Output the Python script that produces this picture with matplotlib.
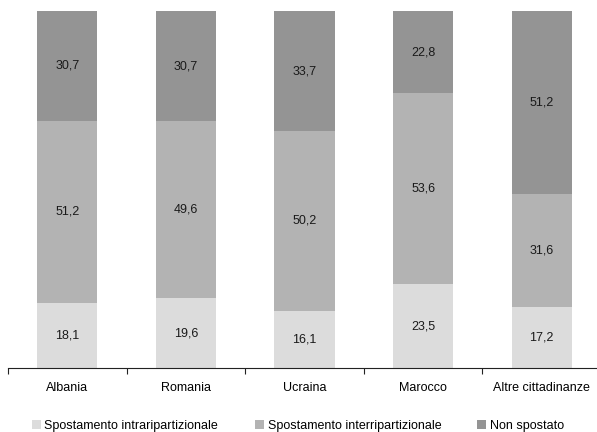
import numpy as np
import matplotlib.pyplot as plt

plt.rcParams['font.family'] = ['Liberation Sans', 'DejaVu Sans']

# dati
paesi = ['Albania', 'Romania', 'Ucraina', 'Marocco', 'Altre cittadinanze']
intra = [18.1, 19.6, 16.1, 23.5, 17.2]
inter = [51.2, 49.6, 50.2, 53.6, 31.6]
non_spostato = [30.7, 30.7, 33.7, 22.8, 51.2]
serie = ['Spostamento intraripartizionale', 'Spostamento interripartizionale', 'Non spostato']
colori = ['#DCDCDC', '#B3B3B3', '#949494']

fig = plt.figure(figsize=(5.97, 4.32), dpi=100)
ax = fig.add_axes([8/597, 64/432, 593/597, 357/432])

x = np.arange(len(paesi))
base = np.zeros(len(paesi))
barre = []
for vals, nome, col in zip([intra, inter, non_spostato], serie, colori):
    vals = np.array(vals)
    b = ax.bar(x, vals, 0.506, bottom=base, color=col, label=nome)
    barre.append(b)
    for xi, b0, v in zip(x, base, vals):
        ax.text(xi, b0 + v/2, f'{v:.1f}'.replace('.', ','), ha='center', va='center',
                fontsize=9, color='#1a1a1a')
    base += vals

ax.set_xlim(-0.5, 4.5)
ax.set_ylim(0, 100)
for s in ['top', 'right', 'left']:
    ax.spines[s].set_visible(False)
ax.spines['bottom'].set_color('#222222')
ax.spines['bottom'].set_linewidth(0.8)
ax.set_yticks([])
ax.set_xticks(np.arange(-0.5, 5, 1))
ax.set_xticklabels([])
ax.set_xticks(x, minor=True)
ax.set_xticklabels(paesi, minor=True, fontsize=9)
ax.tick_params(axis='x', which='major', length=4, color='#222222', width=0.8)
ax.tick_params(axis='x', which='minor', length=0, pad=10)

# legenda: tre voci posizionate separatamente
pos_leg = [32/597, 255/597, 477/597]
for b, nome, px in zip(barre, serie, pos_leg):
    leg = fig.legend([b], [nome], loc='center left', bbox_to_anchor=(px, 1 - 426/432),
                     frameon=False, fontsize=9, handlelength=0.75, handleheight=0.75,
                     handletextpad=0.25, borderpad=0, borderaxespad=0)

fig.savefig('out.png', dpi=100)
